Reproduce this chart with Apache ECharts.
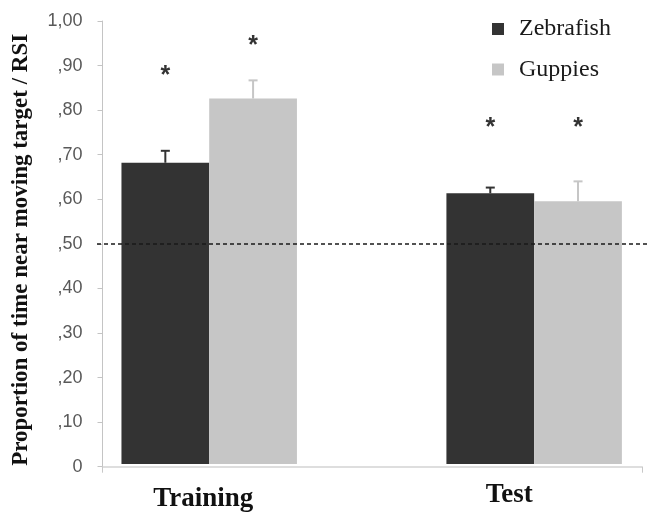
<!DOCTYPE html>
<html>
<head>
<meta charset="utf-8">
<script src="https://cdn.jsdelivr.net/npm/echarts@6/dist/echarts.min.js"></script>
<style>
html,body{margin:0;padding:0;background:#fff;}
#chart{width:649px;height:513px;}
</style>
</head>
<body>
<div id="chart"></div>
<script>
// ---- data ----
const categories = ['Training', 'Test'];
const seriesNames = ['Zebrafish', 'Guppies'];
const zebrafish = [0.680, 0.611];
const guppies = [0.825, 0.593];
const zebrafishErr = [0.027, 0.013];
const guppiesErr = [0.041, 0.045];
const sigZebrafish = [0.888, 0.769];
const sigGuppies = [0.955, 0.769];
const chanceLevel = 0.5;
const yTickLabels = ['0', ',10', ',20', ',30', ',40', ',50', ',60', ',70', ',80', ',90', '1,00'];

// ---- style ----
const BAR_FRAC = 0.27;
const CAP = 9;
const STAR_SIZE = 25;
const colZ = '#333333';
const colG = '#c6c6c6';
const TOP = 21, BOTTOM = 46.3;

function errSeries(name, means, errs, sigs, color, side) {
  return {
    type: 'custom', name: name, xAxisIndex: 0, yAxisIndex: 0, z: 4, silent: true, clip: false,
    data: means.map((m, i) => [i, m, errs[i], sigs[i]]),
    renderItem: function (params, api) {
      const band = api.size([1, 0])[0];
      const bw = band * BAR_FRAC;
      const c = api.coord([api.value(0), api.value(1)]);
      const x = c[0] + side * bw / 2;
      const yTop = api.coord([api.value(0), api.value(1) + api.value(2)])[1];
      const ySig = api.coord([api.value(0), api.value(3)])[1];
      return {
        type: 'group', children: [
          { type: 'line', shape: { x1: x, y1: c[1], x2: x, y2: yTop }, style: { stroke: color, lineWidth: 2 } },
          { type: 'line', shape: { x1: x - CAP / 2, y1: yTop, x2: x + CAP / 2, y2: yTop }, style: { stroke: color, lineWidth: 2 } },
          { type: 'text', x: x, y: ySig + STAR_SIZE * 0.2, style: { text: '*', fontSize: STAR_SIZE, fontWeight: 'bold', fill: '#333', align: 'center', verticalAlign: 'middle', fontFamily: 'Liberation Sans' } }
        ]
      };
    }
  };
}

const chart = echarts.init(document.getElementById('chart'), null, { renderer: 'canvas' });
chart.setOption({
  animation: false,
  backgroundColor: '#ffffff',
  grid: [
    { left: 209.2, right: 114.85, top: TOP, bottom: BOTTOM },
    { left: 102.5, right: 7, top: TOP, bottom: BOTTOM },
    { left: 97, right: 0, top: TOP, bottom: BOTTOM }
  ],
  legend: {
    data: seriesNames, orient: 'vertical', left: 487, top: 12,
    itemWidth: 12, itemHeight: 12, itemGap: 16.5, icon: 'rect',
    textStyle: { fontFamily: 'Liberation Serif', fontSize: 24, color: '#1a1a1a', padding: [0, 0, 0, 10] }
  },
  xAxis: [
    {
      type: 'category', gridIndex: 0, data: categories, boundaryGap: false,
      axisLine: { show: false }, axisTick: { show: false },
      axisLabel: {
        margin: 15,
        formatter: (v, i) => '{c' + i + '|' + v + '}',
        rich: {
          c0: { fontFamily: 'Liberation Serif', fontWeight: 'bold', fontSize: 27, color: '#111', padding: [7, 12, 0, 0] },
          c1: { fontFamily: 'Liberation Serif', fontWeight: 'bold', fontSize: 27, color: '#111', padding: [3, 50, 0, 0] }
        }
      }
    },
    {
      type: 'category', gridIndex: 1, data: categories,
      axisLine: { show: true, lineStyle: { color: '#d4d4d4', width: 1.5 } },
      axisTick: { show: true, length: 6, interval: (i) => i === 0, lineStyle: { color: '#c8c8c8' } },
      axisLabel: { show: false }
    },
    { type: 'value', gridIndex: 2, min: 0, max: 1, show: false }
  ],
  yAxis: [
    { type: 'value', gridIndex: 0, min: 0, max: 1, show: false },
    {
      type: 'value', gridIndex: 1, min: 0, max: 1, interval: 0.1,
      name: 'Proportion of time near moving target / RSI',
      nameLocation: 'middle', nameRotate: 90, nameGap: 70,
      nameTextStyle: { fontFamily: 'Liberation Serif', fontWeight: 'bold', fontSize: 23, color: '#111', padding: [0, 12, 0, 0] },
      axisLine: { show: true, lineStyle: { color: '#c4c4c4', width: 1 } },
      axisTick: { show: true, length: 5, lineStyle: { color: '#c4c4c4' } },
      splitLine: { show: false },
      axisLabel: {
        margin: 20, fontFamily: 'Liberation Sans', fontSize: 18, color: '#595959',
        formatter: (v) => yTickLabels[Math.round(v * 10)]
      }
    },
    { type: 'value', gridIndex: 2, min: 0, max: 1, show: false }
  ],
  series: [
    { type: 'bar', name: seriesNames[0], xAxisIndex: 0, yAxisIndex: 0, data: zebrafish, clip: false, barWidth: (BAR_FRAC * 100) + '%', barGap: '0%', itemStyle: { color: colZ }, silent: true },
    { type: 'bar', name: seriesNames[1], xAxisIndex: 0, yAxisIndex: 0, data: guppies, clip: false, barWidth: (BAR_FRAC * 100) + '%', barGap: '0%', itemStyle: { color: colG }, silent: true },
    errSeries('zebrafish-err', zebrafish, zebrafishErr, sigZebrafish, colZ, -1),
    errSeries('guppies-err', guppies, guppiesErr, sigGuppies, colG, 1),
    {
      type: 'line', name: 'chance', xAxisIndex: 2, yAxisIndex: 2, data: [], z: 10, silent: true,
      markLine: {
        silent: true, symbol: 'none', label: { show: false },
        lineStyle: { color: '#1a1a1a', type: [4, 3], width: 1.5 },
        data: [{ yAxis: chanceLevel }]
      }
    }
  ]
});
</script>
</body>
</html>
